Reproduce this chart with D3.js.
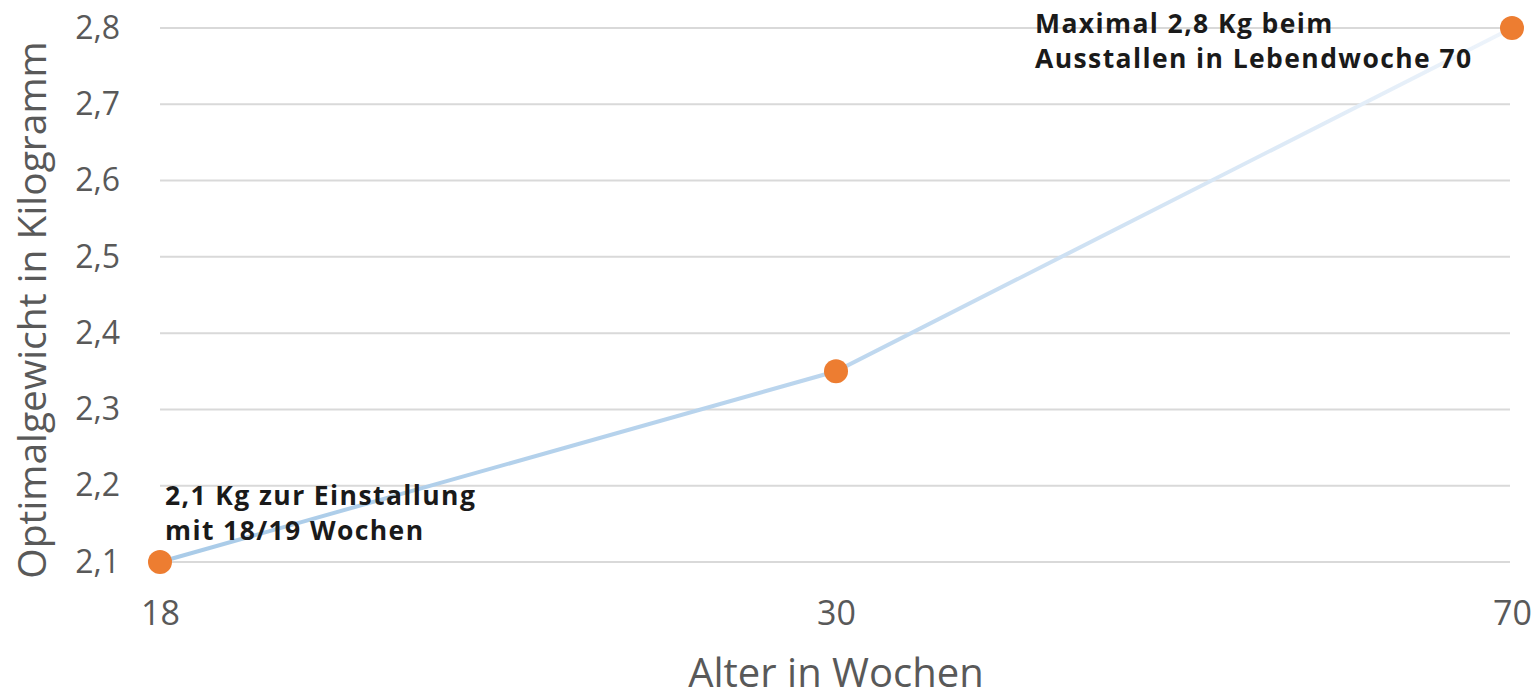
<!DOCTYPE html>
<html><head><meta charset="utf-8">
<script src="https://cdn.jsdelivr.net/npm/d3@7"></script>
<style>html,body{margin:0;padding:0;background:#fff;}svg{display:block;}</style>
</head><body>
<svg id="c" width="1537" height="699"></svg>
<script>
const categories = ["18", "30", "70"];
const weights = [2.1, 2.35, 2.8];
const yTicks = [2.1, 2.2, 2.3, 2.4, 2.5, 2.6, 2.7, 2.8];
const annotations = [
  {i: 0, lines: ["2,1 Kg zur Einstallung", "mit 18/19 Wochen"]},
  {i: 2, lines: ["Maximal 2,8 Kg beim", "Ausstallen in Lebendwoche 70"]}
];
const xTitle = "Alter in Wochen";
const yTitle = "Optimalgewicht in Kilogramm";

const svg = d3.select("#c");
const x = d3.scalePoint().domain(categories).range([160, 1512]);
const y = d3.scaleLinear().domain([2.1, 2.8]).range([562, 28]);
const fmt = v => d3.format(".1f")(v).replace(".", ",");
const font = "'Open Sans', sans-serif";

// gridlines
svg.append("g").selectAll("line").data(yTicks).join("line")
  .attr("x1", 160).attr("x2", 1510)
  .attr("y1", d => y(d)).attr("y2", d => y(d))
  .attr("stroke", "#d9d9d9").attr("stroke-width", 2);

// y axis labels
const yAxis = svg.append("g").attr("transform", "translate(128,0)")
  .call(d3.axisLeft(y).tickValues(yTicks).tickFormat(fmt).tickSize(0).tickPadding(8));
yAxis.select(".domain").remove();
yAxis.selectAll("text").attr("font-family", font).attr("font-size", 32).attr("fill", "#595959");

// x axis labels
const xAxis = svg.append("g").attr("transform", "translate(0,597)")
  .call(d3.axisBottom(x).tickSize(0).tickPadding(4));
xAxis.select(".domain").remove();
xAxis.selectAll("text").attr("font-family", font).attr("font-size", 34).attr("fill", "#595959");

// gradient line
const defs = svg.append("defs");
const grad = defs.append("linearGradient").attr("id", "lg")
  .attr("gradientUnits", "userSpaceOnUse")
  .attr("x1", x(categories[0])).attr("x2", x(categories[2])).attr("y1", 0).attr("y2", 0);
grad.append("stop").attr("offset", "0%").attr("stop-color", "#a9cbe8");
grad.append("stop").attr("offset", "50%").attr("stop-color", "#bcd6ee");
grad.append("stop").attr("offset", "100%").attr("stop-color", "#eef4fb");

const data = categories.map((c, i) => ({c, v: weights[i]}));
svg.append("path").datum(data)
  .attr("d", d3.line().x(d => x(d.c)).y(d => y(d.v)))
  .attr("fill", "none").attr("stroke", "url(#lg)").attr("stroke-width", 4);

svg.append("g").selectAll("circle").data(data).join("circle")
  .attr("cx", d => x(d.c)).attr("cy", d => y(d.v)).attr("r", 12)
  .attr("fill", "#ed7d31");

// annotations
const offs = [{dx: 5, dy: -57}, {dx: -477, dy: 5}];
annotations.forEach((a, k) => {
  const t = svg.append("text")
    .attr("x", x(categories[a.i]) + offs[k].dx)
    .attr("y", y(weights[a.i]) + offs[k].dy)
    .attr("font-family", font).attr("font-weight", "bold")
    .attr("font-size", 26.5).attr("letter-spacing", 1.4).attr("fill", "#1a1a1a");
  a.lines.forEach((l, j) => t.append("tspan")
    .attr("x", x(categories[a.i]) + offs[k].dx).attr("dy", j ? 35 : 0).text(l));
});

// axis titles
svg.append("text").attr("x", 836).attr("y", 687).attr("text-anchor", "middle")
  .attr("font-family", font).attr("font-size", 40).attr("fill", "#595959").text(xTitle);
svg.append("text").attr("transform", "translate(46,310) rotate(-90)").attr("text-anchor", "middle")
  .attr("font-family", font).attr("font-size", 39).attr("fill", "#595959").text(yTitle);
</script>
</body></html>
